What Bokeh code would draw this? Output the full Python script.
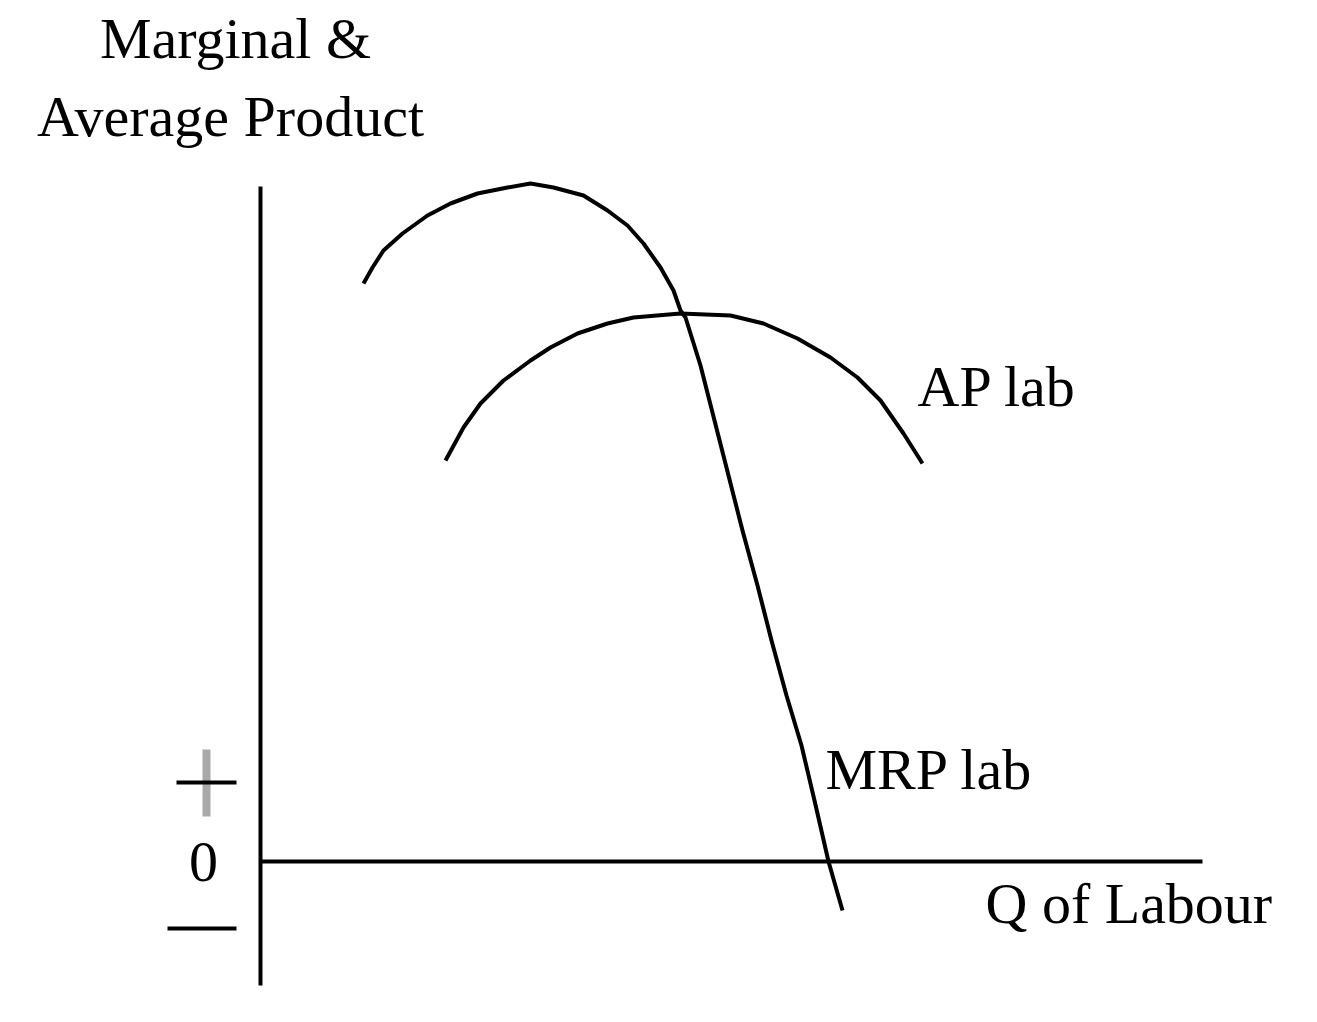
from bokeh.plotting import figure
from bokeh.models import Range1d, Label
from bokeh.embed import file_html
from bokeh.resources import INLINE

# ---- data (quantity of labour vs. product, arbitrary units) ----
mrp_labour = [103, 112, 123, 142, 167, 190, 217, 247, 270, 293, 323, 347, 367, 383,
              400, 413, 420, 425, 440, 454, 468, 482, 497, 511, 526, 541, 554, 568, 582]
mrp_product = [578, 594, 611, 628, 646, 658, 668, 674, 678, 674, 666, 651, 636, 618,
               594, 571, 551, 544, 496, 441, 386, 331, 276, 221, 166, 116, 61, 0, -49]

ap_labour = [185, 203, 220, 243, 270, 290, 317, 347, 373, 420, 470, 503, 537, 570,
             597, 620, 643, 662]
ap_product = [401, 434, 458, 481, 501, 514, 528, 538, 544, 548, 546, 538, 523, 504,
              484, 461, 428, 398]

q_axis_end = 942
p_axis_top = 675
p_axis_bottom = -124

FONT = "Liberation Serif"
FS = "58px"

p = figure(width=1301, height=1006, output_backend="svg", toolbar_location=None,
           x_range=Range1d(-260, 1041), y_range=Range1d(-145, 861),
           min_border=0, background_fill_color="white", border_fill_color="white")
p.axis.visible = False
p.grid.visible = False
p.outline_line_color = None

# axes
p.segment(x0=[0], y0=[p_axis_bottom], x1=[0], y1=[p_axis_top], line_color="black", line_width=4)
p.segment(x0=[0], y0=[0], x1=[q_axis_end], y1=[0], line_color="black", line_width=4)

# plus / minus markers
p.segment(x0=[-54], y0=[45], x1=[-54], y1=[112], line_color="#a9a9a9", line_width=8)
p.segment(x0=[-84], y0=[79], x1=[-24], y1=[79], line_color="black", line_width=4)
p.segment(x0=[-93], y0=[-67], x1=[-24], y1=[-67], line_color="black", line_width=4)

# curves
p.line(mrp_labour, mrp_product, line_color="black", line_width=4, line_join="round")
p.line(ap_labour, ap_product, line_color="black", line_width=4, line_join="round")

def lab(text, x, y, align="left", baseline="alphabetic"):
    p.add_layout(Label(x=x, y=y, text=text, text_font=FONT, text_font_size=FS,
                       text_color="black", text_align=align, text_baseline=baseline))

lab("Marginal &", -25, 823, "center")
lab("Average Product", -30, 745, "center")
lab("AP lab", 657, 475)
lab("MRP lab", 565, 92)
lab("Q of Labour", 725, -42)
lab("0", -57, 0, "center", "middle")

open("out.html", "w").write(file_html(p, INLINE))
